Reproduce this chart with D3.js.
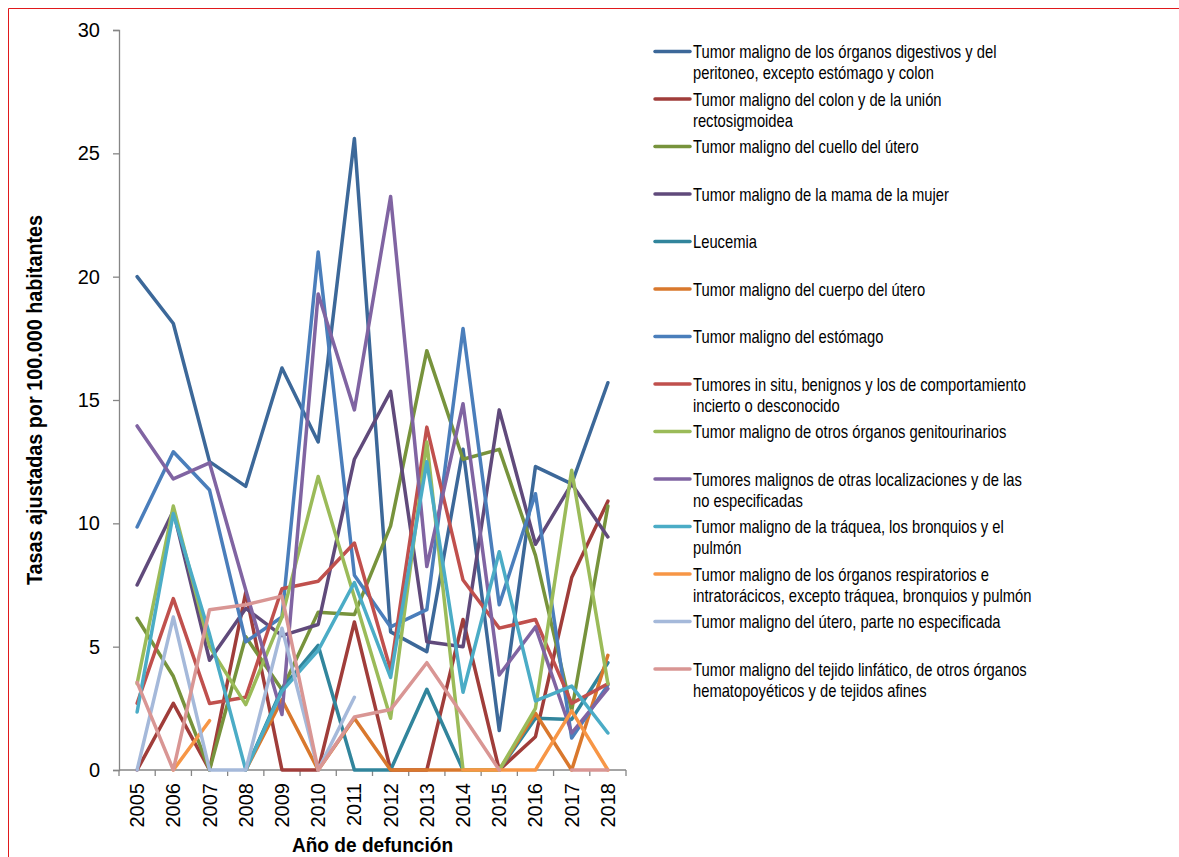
<!DOCTYPE html>
<html>
<head>
<meta charset="utf-8">
<script src="https://cdn.jsdelivr.net/npm/d3@7"></script>
<style>
  body { margin: 0; background: #fff; }
  svg { display: block; }
</style>
</head>
<body>
<div id="chart"></div>
<script>
// years on the x axis
var years = [2005, 2006, 2007, 2008, 2009, 2010, 2011, 2012, 2013, 2014, 2015, 2016, 2017, 2018];
var yTicks = [0, 5, 10, 15, 20, 25, 30];

// adjusted rates per 100.000 (null = no value)
var digestivos    = [20.0, 18.1, 12.5, 11.5, 16.3, 13.3, 25.6, 5.6, 4.8, 13.0, 1.6, 12.3, 11.6, 15.7];
var colon         = [0, 2.7, 0, 7.2, 0, 0, 6.0, 0, 0, 6.1, 0, 1.35, 7.8, 10.9];
var cuello        = [6.15, 3.8, 0, 5.4, 3.25, 6.4, 6.3, 9.9, 17.0, 12.6, 13.0, 8.7, 2.4, 10.7];
var mama          = [7.5, 10.5, 4.45, 6.55, 5.45, 5.9, 12.6, 15.35, 5.2, 5.0, 14.6, 9.15, 11.6, 9.45];
var leucemia      = [null, null, null, 0, 3.3, 5.05, 0, 0, 3.27, 0, 0, 2.1, 2.05, 4.35];
var cuerpo        = [null, null, null, 0, 2.85, 0, 2.1, 0, 0, 0, 0, 2.3, 0, 4.65];
var estomago      = [9.85, 12.9, 11.35, 5.2, 6.2, 21.0, 7.9, 5.8, 6.5, 17.9, 6.7, 11.2, 1.3, 3.45];
var insitu        = [2.7, 6.95, 2.7, 2.95, 7.35, 7.65, 9.2, 4.05, 13.9, 7.7, 5.75, 6.1, 2.7, 3.5];
var genito        = [3.5, 10.7, 5.0, 2.65, 6.2, 11.9, 7.0, 2.1, 13.3, 0, 0, 2.5, 12.15, 3.5];
var otras         = [13.95, 11.8, 12.45, 7.3, 2.25, 19.3, 14.6, 23.25, 8.25, 14.85, 3.85, 5.8, 1.5, 3.3];
var traquea       = [2.35, 10.4, 5.5, 0, 3.2, 4.85, 7.6, 3.75, 12.5, 3.15, 8.85, 2.8, 3.4, 1.5];
var respiratorios = [null, 0, 2.0, null, null, null, null, null, null, 0, 0, 0, 2.4, 0];
var utero         = [0, 6.2, 0, 0, 5.75, 0, 2.95, null, null, null, null, null, null, null];
var linfatico     = [3.55, 0, 6.5, 6.7, 7.05, 0, 2.15, 2.45, 4.35, 2.2, 0, null, 0, 0];

var series = [
  {name: ["Tumor maligno de los órganos digestivos y del", "peritoneo, excepto estómago y colon"], values: digestivos, color: "#3c6899"},
  {name: ["Tumor maligno del colon y de la unión", "rectosigmoidea"], values: colon, color: "#a03d3a"},
  {name: ["Tumor maligno del cuello del útero"], values: cuello, color: "#77933c"},
  {name: ["Tumor maligno de la mama de la mujer"], values: mama, color: "#604a7b"},
  {name: ["Leucemia"], values: leucemia, color: "#31859c"},
  {name: ["Tumor maligno del cuerpo del útero"], values: cuerpo, color: "#d9782d"},
  {name: ["Tumor maligno del estómago"], values: estomago, color: "#4a7ebb"},
  {name: ["Tumores in situ, benignos y los de comportamiento", "incierto o desconocido"], values: insitu, color: "#c0504d"},
  {name: ["Tumor maligno de otros órganos genitourinarios"], values: genito, color: "#9bbb59"},
  {name: ["Tumores malignos de otras localizaciones y de las", "no especificadas"], values: otras, color: "#8064a2"},
  {name: ["Tumor maligno de la tráquea, los bronquios y el", "pulmón"], values: traquea, color: "#4bacc6"},
  {name: ["Tumor maligno de los órganos respiratorios e", "intratorácicos, excepto tráquea, bronquios y pulmón"], values: respiratorios, color: "#f79646"},
  {name: ["Tumor maligno del útero, parte no especificada"], values: utero, color: "#a5b9da"},
  {name: ["Tumor maligno del tejido linfático, de otros órganos", "hematopoyéticos y de tejidos afines"], values: linfatico, color: "#d99694"}
];

var W = 1179, H = 857;
var margin = {top: 30, right: 553, bottom: 87, left: 119};
// no narrow face installed, so plain Liberation Sans is squeezed instead
var font = "'Liberation Sans', Arial, sans-serif";

var svg = d3.select("#chart").append("svg")
    .attr("width", W)
    .attr("height", H);

// red frame of the original figure
svg.append("path")
    .attr("d", "M8.5," + H + "V8.5H" + W)
    .attr("fill", "none")
    .attr("stroke", "#e0191c")
    .attr("stroke-width", 1);

var x = d3.scaleBand()
    .domain(years)
    .range([margin.left, W - margin.right]);

var y = d3.scaleLinear()
    .domain([0, 30])
    .range([H - margin.bottom, margin.top]);

var axisColor = "#868686";

// y axis
var yAxisG = svg.append("g")
    .attr("transform", "translate(" + margin.left + ",0)")
    .call(d3.axisLeft(y).tickValues(yTicks).tickSize(6).tickPadding(13));
yAxisG.select(".domain").attr("stroke", axisColor).attr("stroke-width", 1.3);
yAxisG.selectAll(".tick line").attr("stroke", axisColor).attr("stroke-width", 1.3);
yAxisG.selectAll("text")
    .attr("font-family", font)
    .attr("font-size", "20px")
    .attr("fill", "#000");

// x axis: ticks on band edges, labels rotated
var xAxisG = svg.append("g")
    .attr("transform", "translate(0," + y(0) + ")");
xAxisG.append("line")
    .attr("x1", x.range()[0])
    .attr("x2", x.range()[1])
    .attr("stroke", axisColor)
    .attr("stroke-width", 1.3);
xAxisG.selectAll(".edge")
    .data(years.map(function (d) { return x(d); }).concat([x.range()[1]]))
    .enter()
    .append("line")
    .attr("class", "edge")
    .attr("x1", function (d) { return d; })
    .attr("x2", function (d) { return d; })
    .attr("y1", 0)
    .attr("y2", 6)
    .attr("stroke", axisColor)
    .attr("stroke-width", 1.3);
xAxisG.selectAll(".yr")
    .data(years)
    .enter()
    .append("text")
    .attr("class", "yr")
    .attr("transform", function (d) {
        return "translate(" + (x(d) + x.bandwidth() / 2 + 7) + ",13) rotate(-90)";
    })
    .attr("text-anchor", "end")
    .attr("font-family", font)
    .attr("font-size", "20px")
    .attr("fill", "#000")
    .text(function (d) { return d; });

// axis titles
svg.append("text")
    .attr("transform", "translate(42," + y(15) + ") rotate(-90) scale(0.9,1)")
    .attr("text-anchor", "middle")
    .attr("font-family", font)
    .attr("font-weight", "bold")
    .attr("font-size", "22px")
    .text("Tasas ajustadas por 100.000 habitantes");

svg.append("text")
    .attr("transform", "translate(" + ((x.range()[0] + x.range()[1]) / 2) + ",852) scale(0.91,1)")
    .attr("text-anchor", "middle")
    .attr("font-family", font)
    .attr("font-weight", "bold")
    .attr("font-size", "21px")
    .text("Año de defunción");

// lines
var line = d3.line()
    .defined(function (d) { return d != null; })
    .x(function (d, i) { return x(years[i]) + x.bandwidth() / 2; })
    .y(function (d) { return y(d); });

svg.append("g")
    .selectAll("path")
    .data(series)
    .enter()
    .append("path")
    .attr("d", function (d) { return line(d.values); })
    .attr("fill", "none")
    .attr("stroke", function (d) { return d.color; })
    .attr("stroke-width", 3.5)
    .attr("stroke-linejoin", "round")
    .attr("stroke-linecap", "round");

// legend
var legend = svg.append("g")
    .attr("transform", "translate(655,51.5)");

var item = legend.selectAll("g")
    .data(series)
    .enter()
    .append("g")
    .attr("transform", function (d, i) { return "translate(0," + (i * 47.5) + ")"; });

item.append("line")
    .attr("x1", 0)
    .attr("x2", 35)
    .attr("stroke", function (d) { return d.color; })
    .attr("stroke-width", 3.5)
    .attr("stroke-linecap", "round");

item.append("text")
    .attr("transform", "translate(38,6.5) scale(0.82,1)")
    .attr("font-family", font)
    .attr("font-size", "18px")
    .attr("fill", "#000")
    .selectAll("tspan")
    .data(function (d) { return d.name; })
    .enter()
    .append("tspan")
    .attr("x", 0)
    .attr("dy", function (d, i) { return i === 0 ? 0 : 21.5; })
    .text(function (d) { return d; });
</script>
</body>
</html>
